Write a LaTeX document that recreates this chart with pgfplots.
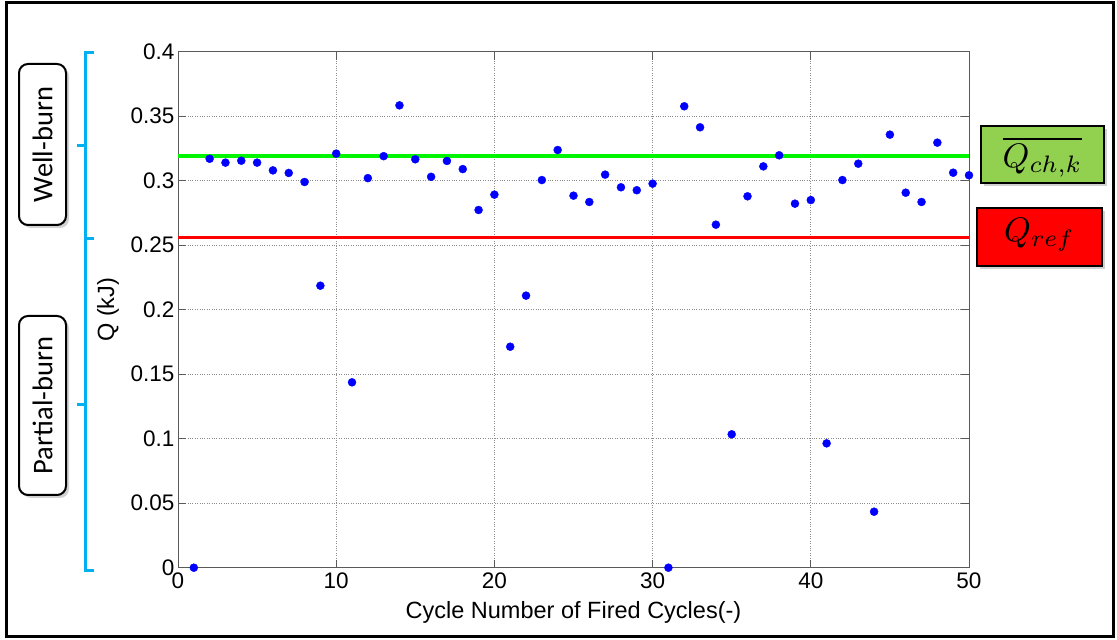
\documentclass[border=0pt]{standalone}
\usepackage{fontspec}
\setmainfont{Liberation Sans}
\newfontfamily\calibri{Carlito}
\usepackage{graphicx}
\usepackage{pgfplots}
\pgfplotsset{compat=1.18}
\usetikzlibrary{shadows}
\definecolor{bracecol}{RGB}{0,176,240}
\definecolor{boxgreen}{RGB}{146,208,80}
\definecolor{lingreen}{RGB}{0,245,0}
\definecolor{ptblue}{RGB}{0,0,255}
\definecolor{axgray}{RGB}{90,90,90}
\pgfplotstableread{
x y
1 0
2 0.317
3 0.314
4 0.3155
5 0.314
6 0.308
7 0.306
8 0.299
9 0.2186
10 0.321
11 0.1437
12 0.302
13 0.319
14 0.3584
15 0.3166
16 0.303
17 0.3153
18 0.309
19 0.2773
20 0.2892
21 0.1713
22 0.2109
23 0.3005
24 0.3238
25 0.2884
26 0.2835
27 0.3047
28 0.2949
29 0.2926
30 0.2977
31 0
32 0.3577
33 0.3414
34 0.2659
35 0.1034
36 0.2879
37 0.3111
38 0.3197
39 0.2822
40 0.285
41 0.0964
42 0.3005
43 0.3132
44 0.0434
45 0.3357
46 0.2907
47 0.2835
48 0.3295
49 0.3062
50 0.3042
}\qdata
\begin{document}
\begin{tikzpicture}[x=1pt,y=1pt]
\useasboundingbox (0,0) rectangle (1117,640);
\fill[white] (0,0) rectangle (1117,640);
\begin{axis}[
  at={(178pt,72.3pt)}, anchor=south west,
  width=791pt, height=516pt, scale only axis,
  xmin=0, xmax=50, ymin=0, ymax=0.4,
  xtick={0,10,20,30,40,50},
  ytick={0,0.05,0.1,0.15,0.2,0.25,0.3,0.35,0.4},
  yticklabel style={/pgf/number format/fixed,/pgf/number format/precision=2},
  /pgf/number format/assume math mode=true,
  tick label style={font=\fontsize{22.5}{27}\selectfont, text=black},
  label style={font=\fontsize{23.5}{28}\selectfont},
  xticklabel style={yshift=-2pt},
  tick align=inside, major tick length=8pt,
  axis line style={axgray, line width=1pt},
  tick style={axgray, line width=1pt},
  grid=major,
  grid style={dotted, black!45, line width=0.9pt},
  xlabel={Cycle Number of Fired Cycles(-)},
  xlabel style={at={(axis description cs:0.5,0)}, anchor=north, yshift=-30pt},
  ylabel={Q (kJ)},
  ylabel style={at={(axis description cs:-0.0885,0.5)}, anchor=center, rotate=0},
  clip=false,
]
\addplot[lingreen, line width=3.5pt] coordinates {(0,0.3191) (50,0.3191)};
\addplot[red, line width=3.5pt] coordinates {(0,0.2558) (50,0.2558)};
\addplot[only marks, mark=*, mark size=4pt, ptblue, mark options={draw=ptblue, fill=ptblue}] table[x=x,y=y] {\qdata};
\end{axis}
% outer frame
\draw[black, line width=3pt] (6,3) rectangle (1113,637);
% braces
\draw[bracecol, line width=3pt] (94,587) -- (85,587) -- (85,401) -- (94,401);
\draw[bracecol, line width=3pt] (85,494) -- (77,494);
\draw[bracecol, line width=3pt] (85,401) -- (85,69) -- (94,69);
\draw[bracecol, line width=3pt] (85,235) -- (77,235);
% left boxes
\node[draw=black, line width=2pt, fill=white, rounded corners=9pt, minimum width=47pt, minimum height=161pt, inner sep=0pt,
      drop shadow={shadow xshift=3pt, shadow yshift=-3pt, opacity=0.35}] at (42.5,495.5) {};
\node[rotate=90, font=\calibri\fontsize{28.5}{32}\selectfont] at (42.5,495.5) {Well-burn};
\node[draw=black, line width=2pt, fill=white, rounded corners=9pt, minimum width=47pt, minimum height=179pt, inner sep=0pt,
      drop shadow={shadow xshift=3pt, shadow yshift=-3pt, opacity=0.35}] at (42.5,234.5) {};
\node[rotate=90, font=\calibri\fontsize{28.5}{32}\selectfont] at (42.5,234.5) {Partial-burn};
% right boxes
\node[draw=black, line width=1.5pt, fill=boxgreen, minimum width=123pt, minimum height=57pt, inner sep=0pt,
      drop shadow={shadow xshift=3pt, shadow yshift=-3pt, opacity=0.35}] at (1042.5,485.5) {};
\node at (1042.5,483) {\scalebox{3.4}{$\overline{Q_{ch,k}}$}};
\node[draw=black, line width=1.5pt, fill=red, minimum width=125pt, minimum height=58pt, inner sep=0pt,
      drop shadow={shadow xshift=3pt, shadow yshift=-3pt, opacity=0.35}] at (1039.5,403) {};
\node at (1039.5,405) {\scalebox{3.4}{$Q_{ref}$}};
\end{tikzpicture}
\end{document}
